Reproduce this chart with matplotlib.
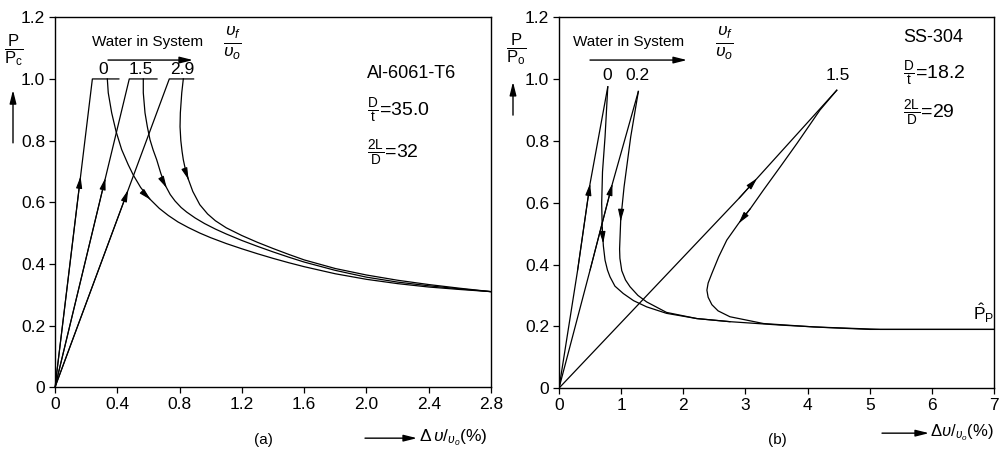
import matplotlib
matplotlib.use("Agg")
import matplotlib.pyplot as plt

plt.rcParams['font.family'] = ['Liberation Sans', 'DejaVu Sans']
plt.rcParams['mathtext.fontset'] = 'custom'
plt.rcParams['mathtext.rm'] = 'Liberation Sans'
plt.rcParams['mathtext.it'] = 'Liberation Sans:italic'

# ---- panel (a): Al-6061-T6 ----
a_xticks = [0, 0.4, 0.8, 1.2, 1.6, 2.0, 2.4, 2.8]
a_names = ["0", "1.5", "2.9"]
a_label_x = [0.31, 0.55, 0.82]

# loading line + flat top at P/Pc = 1
a_load_x = [[0, 0.24, 0.41], [0, 0.477, 0.655], [0, 0.734, 0.89]]
a_load_y = [[0, 1.0, 1.0], [0, 1.0, 1.0], [0, 1.0, 1.0]]

# unloading (post-buckling) curves
a_unl_x = [
    [0.336, 0.342, 0.364, 0.392, 0.428, 0.47, 0.503, 0.55, 0.61, 0.67, 0.728,
     0.79, 0.856, 0.93, 1.0, 1.1, 1.2, 1.3, 1.4, 1.5, 1.6, 1.8, 2.0, 2.2,
     2.4, 2.6, 2.8],
    [0.567, 0.567, 0.578, 0.593, 0.61, 0.63, 0.653, 0.68, 0.706, 0.74, 0.771,
     0.81, 0.846, 0.9, 0.96, 1.03, 1.1, 1.2, 1.3, 1.4, 1.5, 1.6, 1.8, 2.0,
     2.2, 2.4, 2.6, 2.8],
    [0.824, 0.814, 0.805, 0.803, 0.808, 0.816, 0.824, 0.838, 0.856, 0.885,
     0.93, 0.98, 1.03, 1.1, 1.2, 1.3, 1.4, 1.5, 1.6, 1.8, 2.0, 2.2, 2.4, 2.6,
     2.8],
]
a_unl_y = [
    [1.0, 0.955, 0.89, 0.83, 0.771, 0.722, 0.688, 0.648, 0.61, 0.58, 0.557,
     0.536, 0.518, 0.50, 0.485, 0.466, 0.449, 0.433, 0.418, 0.404, 0.391,
     0.368, 0.35, 0.336, 0.325, 0.317, 0.31],
    [1.0, 0.955, 0.89, 0.845, 0.803, 0.77, 0.738, 0.693, 0.657, 0.625, 0.604,
     0.583, 0.568, 0.549, 0.531, 0.513, 0.497, 0.476, 0.457, 0.439, 0.422,
     0.406, 0.379, 0.357, 0.341, 0.329, 0.319, 0.31],
    [1.0, 0.955, 0.89, 0.845, 0.80, 0.765, 0.738, 0.705, 0.675, 0.635, 0.592,
     0.562, 0.54, 0.517, 0.492, 0.47, 0.45, 0.431, 0.413, 0.385, 0.364, 0.347,
     0.333, 0.321, 0.31],
]
a_load_arrow_y = [0.684, 0.679, 0.64]
a_unl_arrow_y = [0.608, 0.646, 0.673]

# ---- panel (b): SS-304 ----
b_xticks = [0, 1, 2, 3, 4, 5, 6, 7]
b_names = ["0", "0.2", "1.5"]
b_label_x = [0.77, 1.27, 4.49]

b_load_x = [[0, 0.30, 0.50, 0.785], [0, 0.50, 0.86, 1.277],
            [0, 2.9, 4.47]]
b_load_y = [[0, 0.382, 0.662, 0.975], [0, 0.382, 0.662, 0.96],
            [0, 0.615, 0.964]]

b_unl_x = [
    [0.785, 0.741, 0.70, 0.687, 0.695, 0.714, 0.741, 0.78, 0.821, 0.90,
     1.035, 1.2, 1.41, 1.73, 2.22, 2.75, 3.56, 4.3, 5.0, 7.0],
    [1.277, 1.154, 1.047, 0.993, 0.975, 0.98, 1.01, 1.07, 1.143, 1.27, 1.41,
     1.73, 2.22, 2.75],
    [4.47, 4.20, 3.83, 3.56, 3.29, 3.08, 2.89, 2.70, 2.57, 2.46, 2.40, 2.38,
     2.40, 2.46, 2.56, 2.75, 3.29, 4.10, 5.17, 7.0],
]
b_unl_y = [
    [0.975, 0.813, 0.70, 0.598, 0.52, 0.46, 0.414, 0.382, 0.36, 0.33, 0.306,
     0.283, 0.263, 0.242, 0.225, 0.215, 0.204, 0.196, 0.19, 0.19],
    [0.96, 0.813, 0.651, 0.544, 0.45, 0.42, 0.38, 0.35, 0.328, 0.3, 0.279,
     0.245, 0.225, 0.215],
    [0.964, 0.90, 0.792, 0.716, 0.641, 0.581, 0.533, 0.479, 0.425, 0.371,
     0.34, 0.317, 0.294, 0.27, 0.25, 0.231, 0.209, 0.198, 0.19, 0.19],
]
b_load_arrow_y = [0.662, 0.662, 0.679]
b_unl_arrow_y = [0.468, 0.54, 0.533]


def arrow_at(ax, xs, ys, yval):
    # small filled arrowhead on the curve where it first crosses yval
    for i in range(len(xs) - 1):
        y0, y1 = ys[i], ys[i + 1]
        if (y0 - yval) * (y1 - yval) <= 0 and y0 != y1:
            t = (yval - y0) / (y1 - y0)
            xe = xs[i] + t * (xs[i + 1] - xs[i])
            ax.annotate('', xy=(xe, yval), xytext=(xs[i], y0),
                        arrowprops=dict(arrowstyle='-|>,head_length=0.7,head_width=0.18',
                                        color='k', lw=0.8, shrinkA=0, shrinkB=0,
                                        mutation_scale=10))
            return


def setup(ax, xmax, xticks, xlabels):
    ax.set_xlim(0, xmax)
    ax.set_ylim(0, 1.2)
    ax.set_xticks(xticks)
    ax.set_xticklabels(xlabels)
    ax.set_yticks([0, 0.2, 0.4, 0.6, 0.8, 1.0, 1.2])
    ax.set_yticklabels(["0", "0.2", "0.4", "0.6", "0.8", "1.0", "1.2"])
    ax.tick_params(direction='out', length=4, width=0.9, labelsize=12.5, pad=3)
    for s in ax.spines.values():
        s.set_linewidth(1.0)


fig = plt.figure(figsize=(10, 4.55), dpi=100)
ax1 = fig.add_axes([0.055, 0.149, 0.436, 0.813])
ax2 = fig.add_axes([0.559, 0.147, 0.435, 0.815])

lw = 0.9
for i in range(3):
    ax1.plot(a_load_x[i], a_load_y[i], color='k', lw=lw)
    ax1.plot(a_unl_x[i], a_unl_y[i], color='k', lw=lw)
    arrow_at(ax1, a_load_x[i], a_load_y[i], a_load_arrow_y[i])
    arrow_at(ax1, a_unl_x[i], a_unl_y[i], a_unl_arrow_y[i])
    ax1.text(a_label_x[i], 1.017, a_names[i], ha='center', va='baseline', fontsize=12.5)

for i in range(3):
    ax2.plot(b_load_x[i], b_load_y[i], color='k', lw=lw)
    ax2.plot(b_unl_x[i], b_unl_y[i], color='k', lw=lw)
    arrow_at(ax2, b_load_x[i], b_load_y[i], b_load_arrow_y[i])
    arrow_at(ax2, b_unl_x[i], b_unl_y[i], b_unl_arrow_y[i])
    ax2.text(b_label_x[i], 0.997, b_names[i], ha='center', va='baseline', fontsize=12.5)

setup(ax1, 2.8, a_xticks, ["0", "0.4", "0.8", "1.2", "1.6", "2.0", "2.4", "2.8"])
setup(ax2, 7, b_xticks, [str(v) for v in b_xticks])

# annotations on the panels
ax1.text(0.716, 0.849, "Al-6061-T6", transform=ax1.transAxes, fontsize=13, va='center')
ax1.text(0.716, 0.749, r"$\frac{\mathrm{D}}{\mathrm{t}}$=35.0", transform=ax1.transAxes,
         fontsize=14, va='center')
ax1.text(0.716, 0.632, r"$\frac{\mathrm{2L}}{\mathrm{D}}$=32", transform=ax1.transAxes,
         fontsize=14, va='center')
ax2.text(0.791, 0.946, "SS-304", transform=ax2.transAxes, fontsize=13, va='center')
ax2.text(0.791, 0.849, r"$\frac{\mathrm{D}}{\mathrm{t}}$=18.2", transform=ax2.transAxes,
         fontsize=14, va='center')
ax2.text(0.791, 0.741, r"$\frac{\mathrm{2L}}{\mathrm{D}}$=29", transform=ax2.transAxes,
         fontsize=14, va='center')
ax2.text(6.83, 0.205, r"$\hat{\mathrm{P}}_{\mathrm{P}}$", fontsize=12.5, ha='center', va='bottom')

arr = dict(arrowstyle='-|>,head_length=0.8,head_width=0.2', color='k', lw=1.0,
           shrinkA=0, shrinkB=0, mutation_scale=10)

for x0, wx, ux in [(0.092, (0.108, 0.193), 0.232), (0.573, (0.590, 0.687), 0.724)]:
    fig.text(x0, 0.908, "Water in System", fontsize=11, va='center')
    plt.annotate('', xy=(wx[1], 0.868), xytext=(wx[0], 0.868), xycoords='figure fraction',
                 textcoords='figure fraction', arrowprops=arr)
    fig.text(ux, 0.905, r"$\frac{\upsilon_f}{\upsilon_o}$", fontsize=18, ha='center', va='center')

# y axis labels with up arrows
fig.text(0.014, 0.89, r"$\dfrac{\mathrm{P}}{\mathrm{P_c}}$", fontsize=12, ha='center', va='center')
plt.annotate('', xy=(0.013, 0.802), xytext=(0.013, 0.686), xycoords='figure fraction',
             textcoords='figure fraction', arrowprops=arr)
fig.text(0.516, 0.892, r"$\dfrac{\mathrm{P}}{\mathrm{P_o}}$", fontsize=12, ha='center', va='center')
plt.annotate('', xy=(0.513, 0.82), xytext=(0.513, 0.747), xycoords='figure fraction',
             textcoords='figure fraction', arrowprops=arr)

# x axis labels
fig.text(0.263, 0.033, "(a)", fontsize=11, ha='center', va='center')
plt.annotate('', xy=(0.417, 0.037), xytext=(0.365, 0.037), xycoords='figure fraction',
             textcoords='figure fraction', arrowprops=arr)
fig.text(0.419, 0.037, r"$\Delta\,\upsilon/_{\upsilon_o}$(%)", fontsize=12.5, va='center')

fig.text(0.777, 0.033, "(b)", fontsize=11, ha='center', va='center')
plt.annotate('', xy=(0.929, 0.048), xytext=(0.882, 0.048), xycoords='figure fraction',
             textcoords='figure fraction', arrowprops=arr)
fig.text(0.930, 0.048, r"$\Delta\upsilon/_{\upsilon_o}$(%)", fontsize=12, va='center')

fig.savefig("out.png", dpi=100)
